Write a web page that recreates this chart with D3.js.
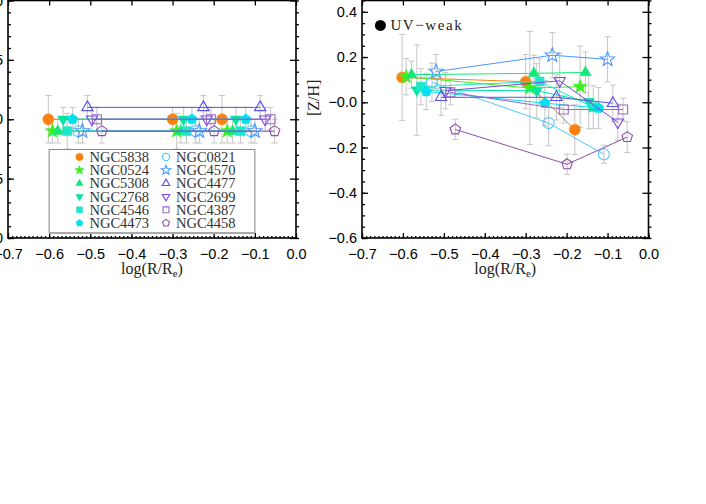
<!DOCTYPE html>
<meta charset="utf-8">
<script src="https://d3js.org/d3.v7.min.js"></script>
<style>
  body { margin: 0; background: #fff; }
  svg { display: block; }
</style>
<body>
<div id="chart"></div>
<script>
// galaxies, in legend order
var names = ["NGC5838", "NGC0524", "NGC5308", "NGC2768", "NGC4546", "NGC4473",
             "NGC0821", "NGC4570", "NGC4477", "NGC2699", "NGC4387", "NGC4458"];

// log(R/Re) of the three apertures, per galaxy
var logR = [
    [-0.602, -0.300, -0.180],
    [-0.592, -0.290, -0.167],
    [-0.579, -0.280, -0.154],
    [-0.566, -0.273, -0.146],
    [-0.556, -0.266, -0.135],
    [-0.543, -0.253, -0.122],
    [-0.529, -0.244, -0.109],
    [-0.519, -0.235, -0.100],
    [-0.507, -0.225, -0.087],
    [-0.496, -0.217, -0.075],
    [-0.484, -0.207, -0.062],
    [-0.472, -0.199, -0.052]
];

// [Z/H] (right panel)
var zh = [
    [0.110, 0.091, -0.121],
    [0.113, 0.063, 0.069],
    [0.122, 0.128, 0.132],
    [0.054, 0.051, 0.003],
    [0.069, 0.092, -0.022],
    [0.048, -0.004, -0.025],
    [0.088, -0.092, -0.230],
    [0.136, 0.208, 0.190],
    [0.022, 0.022, -0.004],
    [0.051, 0.095, -0.088],
    [0.044, -0.032, -0.032],
    [-0.120, -0.274, -0.154]
];
var zhErr = [
    [0.19, 0.12, 0.11],
    [0.08, 0.25, 0.18],
    [0.06, 0.08, 0.09],
    [0.20, 0.12, 0.12],
    [0.08, 0.10, 0.095],
    [0.08, 0.10, 0.09],
    [0.085, 0.10, 0.04],
    [0.075, 0.10, 0.10],
    [0.08, 0.10, 0.08],
    [0.08, 0.12, 0.08],
    [0.055, 0.06, 0.05],
    [0.045, 0.045, 0.068]
];

// left panel values
var leftVal = [
    [0, 0, 0],
    [-0.1, -0.1, -0.1],
    [-0.1, -0.1, -0.1],
    [0, 0, 0],
    [-0.1, -0.1, -0.1],
    [0, 0, 0],
    [-0.1, -0.1, -0.1],
    [-0.1, -0.1, -0.1],
    [0.1, 0.1, 0.1],
    [0, 0, 0],
    [0, 0, 0],
    [-0.1, -0.1, -0.1]
];
var leftErr = [
    [0.2, 0.1, 0.2],
    [0.1, 0.15, 0.1],
    [0.1, 0.1, 0.1],
    [0.1, 0.1, 0.1],
    [0.15, 0.1, 0.1],
    [0.1, 0.1, 0.1],
    [0.1, 0.1, 0.1],
    [0.1, 0.1, 0.1],
    [0.1, 0.1, 0.1],
    [0.1, 0.1, 0.1],
    [0.1, 0.1, 0.1],
    [0.1, 0.1, 0.1]
];

var xTicks = [-0.7, -0.6, -0.5, -0.4, -0.3, -0.2, -0.1, 0.0];
var zhTicks = [-0.6, -0.4, -0.2, 0.0, 0.2, 0.4];
var leftTicks = [-1.0, -0.5, 0.0, 0.5, 1.0];

// styles
var colors = ["#ff800f", "#3cf01e", "#14e87c", "#00e8a0", "#1ce8c8", "#00e2f0",
              "#50c8ff", "#4a96ff", "#5a50e6", "#7a48e0", "#9a66c8", "#8a4ea8"];
var symbols = ["circle", "star", "tri", "tridown", "square", "pent",
               "circle", "star", "tri", "tridown", "square", "pent"];
var symSize = {circle: 5.5, star: 7.5, tri: 6.5, tridown: 6.5, square: 4.5, pent: 5.5};

var W = 706, H = 504;
var svg = d3.select("#chart").append("svg").attr("width", W).attr("height", H);

var yTop = 0.5, yBot = 238;
var xL = d3.scaleLinear().domain([-0.7, 0]).range([8, 296]);
var xR = d3.scaleLinear().domain([-0.7, 0]).range([362, 648.5]);
var yL = d3.scaleLinear().domain([-1, 1]).range([yBot, yTop]);
var yR = d3.scaleLinear().domain([-0.6, 0.45]).range([yBot, yTop]);

function symPath(type, r) {
    if (type == "circle") return d3.symbol(d3.symbolCircle, Math.PI * r * r)();
    var pts;
    function ring(n, rot, rr) {
        return d3.range(n).map(function (i) {
            var a = rot + i * 2 * Math.PI / n;
            return [rr(i) * Math.cos(a), rr(i) * Math.sin(a)];
        });
    }
    if (type == "star") pts = ring(10, -Math.PI / 2, function (i) { return i % 2 ? r * 0.42 : r; });
    else if (type == "tri") pts = ring(3, -Math.PI / 2, function () { return r; });
    else if (type == "tridown") pts = ring(3, Math.PI / 2, function () { return r; });
    else if (type == "pent") pts = ring(5, -Math.PI / 2, function () { return r; });
    else pts = [[-r, -r], [r, -r], [r, r], [-r, r]];
    return "M" + pts.map(function (p) { return p[0].toFixed(2) + "," + p[1].toFixed(2); }).join("L") + "Z";
}

function drawSymbol(g, i, cx, cy, scale) {
    var filled = i < 6;
    g.append("path")
        .attr("d", symPath(symbols[i], symSize[symbols[i]] * scale))
        .attr("transform", "translate(" + cx + "," + cy + ")")
        .attr("fill", filled ? colors[i] : "none")
        .attr("stroke", colors[i])
        .attr("stroke-width", filled ? 0.5 : 1.1);
}

var fmt1 = d3.format(".1f");

function frame(x, y, yMajor, yMinorStep, yFmt) {
    var g = svg.append("g");
    var x0 = x.range()[0], x1 = x.range()[1];
    var xMinor = d3.range(-0.7, 0.0001, 0.01);
    var yd = y.domain();
    var yMinor = d3.range(Math.ceil(yd[0] / yMinorStep - 1e-6) * yMinorStep, yd[1] + 1e-6, yMinorStep);

    // minor ticks
    [[d3.axisBottom, yBot, -2], [d3.axisTop, yTop, 2]].forEach(function (a) {
        g.append("g").attr("transform", "translate(0," + a[1] + ")")
            .call(a[0](x).tickValues(xMinor).tickSize(a[2]).tickFormat(""));
    });
    [[d3.axisLeft, x0, -3], [d3.axisRight, x1, 3]].forEach(function (a) {
        g.append("g").attr("transform", "translate(" + a[1] + ",0)")
            .call(a[0](y).tickValues(yMinor).tickSize(a[2]).tickFormat(""));
    });
    // major ticks
    var bx = g.append("g").attr("transform", "translate(0," + yBot + ")")
        .call(d3.axisBottom(x).tickValues(xTicks).tickSize(-5).tickPadding(11).tickFormat(fmt1));
    g.append("g").attr("transform", "translate(0," + yTop + ")")
        .call(d3.axisTop(x).tickValues(xTicks).tickSize(-5).tickFormat(""));
    var ly = g.append("g").attr("transform", "translate(" + x0 + ",0)")
        .call(d3.axisLeft(y).tickValues(yMajor).tickSize(-6).tickPadding(5).tickFormat(yFmt));
    g.append("g").attr("transform", "translate(" + x1 + ",0)")
        .call(d3.axisRight(y).tickValues(yMajor).tickSize(-6).tickFormat(""));

    g.selectAll(".domain").remove();
    g.selectAll(".tick line").attr("stroke", "#000").attr("stroke-width", 1.3);
    [bx, ly].forEach(function (a) {
        a.attr("font-family", "'Liberation Sans', Arial, sans-serif").attr("font-size", 14.5);
        a.selectAll("text").attr("fill", "#000");
    });

    g.append("rect")
        .attr("x", x0).attr("y", yTop)
        .attr("width", x1 - x0).attr("height", yBot - yTop)
        .attr("fill", "none").attr("stroke", "#000").attr("stroke-width", 1.6);

    var t = g.append("text")
        .attr("x", (x0 + x1) / 2).attr("y", 274)
        .attr("text-anchor", "middle")
        .attr("font-family", "'Liberation Serif', 'Times New Roman', serif")
        .attr("font-size", 16).attr("fill", "#222");
    t.append("tspan").text("log(R/R");
    t.append("tspan").attr("font-size", 11).attr("dy", 3).text("e");
    t.append("tspan").attr("dy", -3).text(")");
}

function drawPoints(x, y, vals, errs) {
    var g = svg.append("g");
    // error bars first
    names.forEach(function (n, i) {
        logR[i].forEach(function (r, k) {
            var cx = x(r), ya = y(vals[i][k] + errs[i][k]), yb = y(vals[i][k] - errs[i][k]);
            g.append("path")
                .attr("d", "M" + cx + "," + ya + "V" + yb +
                    "M" + (cx - 3) + "," + ya + "H" + (cx + 3) +
                    "M" + (cx - 3) + "," + yb + "H" + (cx + 3))
                .attr("stroke", "#c6c6c6").attr("stroke-width", 1).attr("fill", "none");
        });
    });
    var line = d3.line().x(function (d) { return x(d[0]); }).y(function (d) { return y(d[1]); });
    names.forEach(function (n, i) {
        var pts = logR[i].map(function (r, k) { return [r, vals[i][k]]; });
        g.append("path").attr("d", line(pts))
            .attr("stroke", colors[i]).attr("stroke-width", 1).attr("fill", "none");
        pts.forEach(function (p) { drawSymbol(g, i, x(p[0]), y(p[1]), 1); });
    });
}

// left panel
frame(xL, yL, leftTicks, 0.1, fmt1);
drawPoints(xL, yL, leftVal, leftErr);

// legend
var lg = svg.append("g");
lg.append("rect")
    .attr("x", xL(-0.6)).attr("y", 149.5)
    .attr("width", xL(-0.1) - xL(-0.6)).attr("height", 83)
    .attr("fill", "#fff").attr("stroke", "#888").attr("stroke-width", 1);
lg.append("line")
    .attr("x1", xL(-0.6)).attr("x2", xL(-0.1)).attr("y1", 233).attr("y2", 233)
    .attr("stroke", "#aaa").attr("stroke-width", 2);
names.forEach(function (n, i) {
    var col = Math.floor(i / 6), row = i % 6;
    var sx = col ? 166 : 79.5, ty = 157 + row * 13.2;
    drawSymbol(lg, i, sx, ty, 0.66);
    lg.append("text")
        .attr("x", sx + 10).attr("y", ty + 5)
        .attr("font-family", "'Liberation Serif', 'Times New Roman', serif")
        .attr("font-size", 14.5).attr("fill", "#333")
        .text(n);
});

// right panel
frame(xR, yR, zhTicks, 0.05, function (v) {
    return Math.abs(v) < 1e-9 ? "\u22120.0" : fmt1(v);
});
drawPoints(xR, yR, zh, zhErr);

svg.append("text")
    .attr("transform", "translate(319," + yR(0.02) + ") rotate(-90)")
    .attr("text-anchor", "middle")
    .attr("font-family", "'Liberation Serif', 'Times New Roman', serif")
    .attr("font-size", 16).attr("fill", "#222")
    .text("[Z/H]");

svg.append("circle")
    .attr("cx", xR(-0.655)).attr("cy", yR(0.34)).attr("r", 5.5).attr("fill", "#000");
svg.append("text")
    .attr("x", xR(-0.655) + 10).attr("y", yR(0.34) + 5)
    .attr("font-family", "'Liberation Serif', 'Times New Roman', serif")
    .attr("font-size", 15).attr("letter-spacing", 1.6).attr("fill", "#222")
    .text("UV\u2212weak");
</script>
</body>
